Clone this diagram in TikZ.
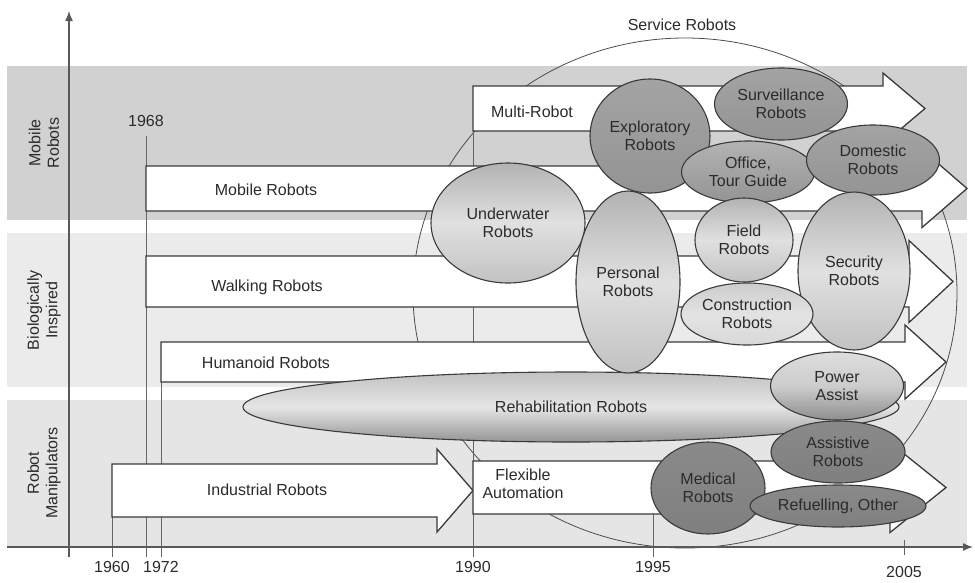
\documentclass[tikz,border=0pt]{standalone}
\usepackage{fontspec}
\setmainfont{Liberation Sans}
\usetikzlibrary{shapes.geometric,arrows.meta}
\definecolor{ink}{HTML}{2B2B2B}
\definecolor{edge}{HTML}{3A3A3A}
\begin{document}
\begin{tikzpicture}[x=1pt,y=-1pt,
  txt/.style={text=ink,inner sep=0pt,align=center,font=\fontsize{16}{18.5}\selectfont},
  band/.style={draw=none},
  yearline/.style={draw=black!60,line width=1pt},
  axisline/.style={draw=black!65,line width=1.3pt,-{Latex[length=10pt,width=8pt]}},
  svc/.style={draw=black!70,line width=0.8pt},
  arrowbox/.style={draw=edge,fill=white,line width=1.3pt,line join=miter},
  blob/.style={ellipse,draw=edge,line width=1.1pt,inner sep=0pt,text=ink,align=center,
    font=\fontsize{16}{18.5}\selectfont},
  dark/.style={blob,top color=black!36,bottom color=black!42},
  darker/.style={blob,top color=black!46,bottom color=black!50},
  light/.style={blob,top color=black!30,bottom color=black!24,middle color=black!12},
  pale/.style={blob,top color=black!20,bottom color=black!15,middle color=black!11},
]
\useasboundingbox (0,0) rectangle (975,582);

% category bands
\fill[band,fill=black!18] (7,66) rectangle (967,220);
\fill[band,fill=black!8] (7,233) rectangle (967,387);
\fill[band,fill=black!10] (7,400) rectangle (967,547);

% service robots region
\draw[svc] (685,293) ellipse [x radius=272, y radius=255];
\node[txt] (svcname) at (682,25) {Service Robots};

% year markers
\draw[yearline] (112,464) -- (112,557);
\draw[yearline] (146,136) -- (146,557);
\draw[yearline] (161,342) -- (161,557);
\draw[yearline] (473,86) -- (473,557);
\draw[yearline] (653,505) -- (653,557);
\draw[yearline] (904,540) -- (904,555);

% axes
\draw[axisline] (7,547) -- (973,547);
\draw[axisline] (69,557) -- (69,11);

\node[txt] (y1960) at (112,567) {1960};
\node[txt] (y1968) at (146,121) {1968};
\node[txt] (y1972) at (161,567) {1972};
\node[txt] (y1990) at (473,567) {1990};
\node[txt] (y1995) at (653,567) {1995};
\node[txt] (y2005) at (904,572) {2005};

% side categories
\node[txt,rotate=90] (cMobile) at (44,143) {Mobile\\Robots};
\node[txt,rotate=90] (cBio) at (44,310) {Biologically\\Inspired};
\node[txt,rotate=90] (cManip) at (44,473) {Robot\\Manipulators};

% block arrows: start x, centre y, half body, head base x, half head, tip x
\newcommand{\blockarrow}[6]{%
  \draw[arrowbox] (#1,{#2-#3}) -- (#4,{#2-#3}) -- (#4,{#2-#5}) -- (#6,#2)
    -- (#4,{#2+#5}) -- (#4,{#2+#3}) -- (#1,{#2+#3}) -- cycle;}
\blockarrow{473}{108.5}{22.5}{883}{35.5}{925}
\blockarrow{146}{188.5}{22.5}{922}{39}{967}
\blockarrow{146}{281.5}{25.5}{909}{41}{953}
\blockarrow{161}{362}{20}{905}{37}{946}
\blockarrow{112}{490.5}{26.5}{437}{41.5}{473}
\blockarrow{473}{487.5}{26.5}{890}{45}{946}

\node[txt] (tMulti) at (532,112) {Multi-Robot};
\node[txt] (tMobile) at (266,190) {Mobile Robots};
\node[txt] (tWalking) at (267,287) {Walking Robots};
\node[txt] (tHumanoid) at (266,363) {Humanoid Robots};
\node[txt] (tIndustrial) at (267,490) {Industrial Robots};
\node[txt] (tFlexible) at (523,484) {Flexible\\Automation};

% application areas
\node[blob,top color=black!24,bottom color=black!42,middle color=black!10,
  minimum width=656,minimum height=70] (rehab) at (571,407) {Rehabilitation Robots};
\node[light,minimum width=154,minimum height=120] (underwater) at (508,223) {Underwater\\Robots};
\node[light,minimum width=104,minimum height=182] (personal) at (628,282) {Personal\\Robots};
\node[dark,minimum width=120,minimum height=114] (exploratory) at (650,136) {Exploratory\\Robots};
\node[dark,minimum width=133,minimum height=72] (surveillance) at (781,104) {Surveillance\\Robots};
\node[dark,top color=black!30,minimum width=133,minimum height=62] (office) at (748,172) {Office,\\Tour Guide};
\node[dark,minimum width=133,minimum height=70] (domestic) at (873,160) {Domestic\\Robots};
\node[light,minimum width=98,minimum height=84] (field) at (744,240) {Field\\Robots};
\node[light,minimum width=112,minimum height=158] (security) at (854,271) {Security\\Robots};
\node[pale,minimum width=132,minimum height=62] (construction) at (747,314) {Construction\\Robots};
\node[blob,top color=black!13,bottom color=black!44,middle color=black!20,
  minimum width=133,minimum height=68] (power) at (837,386) {Power\\Assist};
\node[darker,minimum width=134,minimum height=62] (assistive) at (838,452) {Assistive\\Robots};
\node[darker,minimum width=114,minimum height=92] (medical) at (708,488) {Medical\\Robots};
\node[darker,minimum width=176,minimum height=42] (refuel) at (838,506) {Refuelling, Other};
\end{tikzpicture}
\end{document}
